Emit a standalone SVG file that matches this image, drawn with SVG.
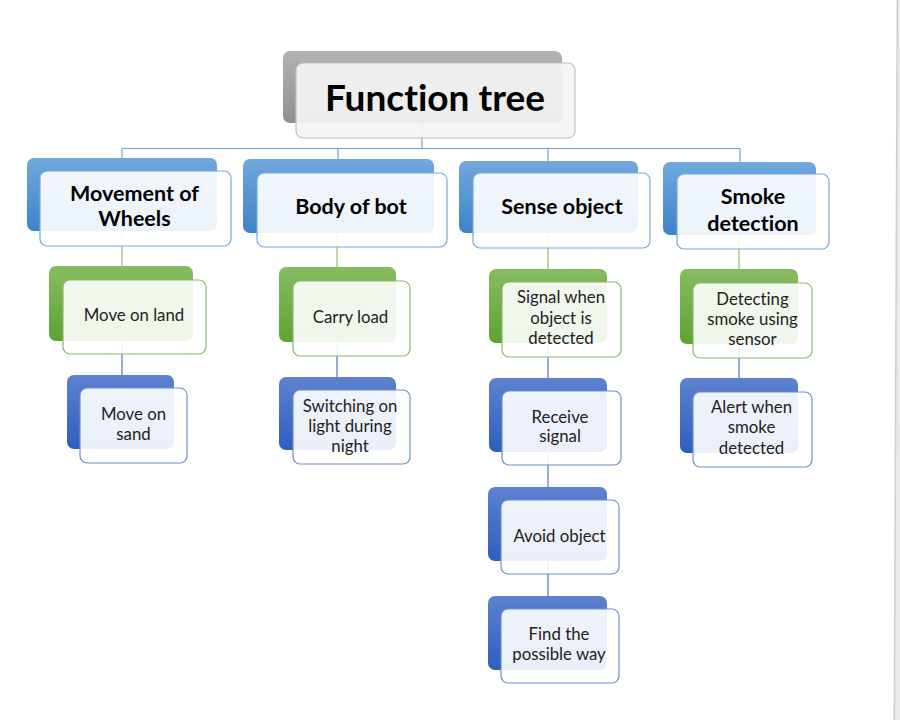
<svg xmlns="http://www.w3.org/2000/svg" width="900" height="720" viewBox="0 0 900 720">
<defs>
<linearGradient id="gGray" x1="0" y1="0" x2="0" y2="1"><stop offset="0" stop-color="#b3b3b3"/><stop offset="1" stop-color="#8f8f8f"/></linearGradient>
<linearGradient id="gL1" x1="0" y1="0" x2="0" y2="1"><stop offset="0" stop-color="#71a8de"/><stop offset="1" stop-color="#3f82c8"/></linearGradient>
<linearGradient id="gL2" x1="0" y1="0" x2="0" y2="1"><stop offset="0" stop-color="#87bc63"/><stop offset="1" stop-color="#5fa232"/></linearGradient>
<linearGradient id="gL3" x1="0" y1="0" x2="0" y2="1"><stop offset="0" stop-color="#5d82cf"/><stop offset="1" stop-color="#2e5ebe"/></linearGradient>
<style>
.bk{stroke:none}
.fr{fill:#ffffff;fill-opacity:0.9;stroke-width:1.2}
.f0{fill:#f4f4f4;fill-opacity:0.92;stroke:#c0c0c0;stroke-width:1.2}
.f1{stroke:#74a9df}
.f2{stroke:#86bc64}
.f3{stroke:#6d8ed3}
.t{font-family:Lato,"Liberation Sans",sans-serif;fill:#1a1a1a;text-anchor:middle;font-variant-ligatures:none;font-feature-settings:"liga" 0}
.tt{font-size:37px;font-weight:700;fill:#000}
.t1{font-size:21.5px;font-weight:700;fill:#000}
.t2{font-size:16.8px;fill:#222}
.c0{stroke:#6fa3d8;stroke-width:1.2;fill:none}
.c2{stroke:#8cc06a;stroke-width:1.2;fill:none}
.c3{stroke:#4f78c9;stroke-width:1.2;fill:none}
</style>
</defs>
<rect width="900" height="720" fill="#ffffff"/>
<polygon points="897.3,0 900,0 900,720 894.3,720" fill="#e9e9e9"/>
<line x1="897.3" y1="0" x2="894.3" y2="720" stroke="#cfcfcf" stroke-width="1.5"/>

<g id="connectors">
<path class="c0" d="M422,100 V148.5 M122,148.5 H740 M122,148.5 V170 M338,148.5 V170 M548,148.5 V170 M740,148.5 V170"/>
<path class="c2" d="M122,200 V300 M337,200 V300 M548,200 V300 M739,200 V300"/>
<path class="c3" d="M122,310 V410 M337,310 V410 M548,310 V410 M548,420 V520 M548,530 V630 M739,310 V410"/>
</g>

<g id="root">
<rect class="bk" x="283" y="51" width="279" height="72" rx="7" fill="url(#gGray)"/>
<rect class="f0" x="296" y="63" width="279" height="75" rx="7"/>
<text class="t tt" x="435" y="111">Function tree</text>
</g>

<g id="n-movement">
<rect class="bk" x="27" y="158" width="190" height="73" rx="7" fill="url(#gL1)"/>
<rect class="fr f1" x="40" y="171" width="191" height="75" rx="7"/>
<text class="t t1" x="134.5" y="201">Movement of</text>
<text class="t t1" x="134.5" y="226">Wheels</text>
</g>
<g id="n-body">
<rect class="bk" x="243" y="159" width="191" height="74" rx="7" fill="url(#gL1)"/>
<rect class="fr f1" x="257" y="173" width="190" height="74" rx="7"/>
<text class="t t1" x="351" y="214">Body of bot</text>
</g>
<g id="n-sense">
<rect class="bk" x="459" y="161" width="179" height="72" rx="7" fill="url(#gL1)"/>
<rect class="fr f1" x="473" y="173" width="177" height="75" rx="7"/>
<text class="t t1" x="562" y="214">Sense object</text>
</g>
<g id="n-smoke">
<rect class="bk" x="663" y="162" width="153" height="73" rx="7" fill="url(#gL1)"/>
<rect class="fr f1" x="677" y="174" width="152" height="75" rx="7"/>
<text class="t t1" x="753" y="204">Smoke</text>
<text class="t t1" x="753" y="231">detection</text>
</g>

<g id="n-land">
<rect class="bk" x="49" y="266" width="144" height="75" rx="7" fill="url(#gL2)"/>
<rect class="fr f2" x="63" y="280" width="143" height="74" rx="7"/>
<text class="t t2" x="134" y="321">Move on land</text>
</g>
<g id="n-carry">
<rect class="bk" x="279" y="267" width="117" height="75" rx="7" fill="url(#gL2)"/>
<rect class="fr f2" x="293" y="281" width="117" height="75" rx="7"/>
<text class="t t2" x="350.5" y="323">Carry load</text>
</g>
<g id="n-signal">
<rect class="bk" x="489" y="269" width="118" height="74" rx="7" fill="url(#gL2)"/>
<rect class="fr f2" x="502" y="282" width="119" height="75" rx="7"/>
<text class="t t2" x="561" y="303">Signal when</text>
<text class="t t2" x="561" y="324">object is</text>
<text class="t t2" x="561" y="344">detected</text>
</g>
<g id="n-detecting">
<rect class="bk" x="680" y="269" width="118" height="75" rx="7" fill="url(#gL2)"/>
<rect class="fr f2" x="693" y="283" width="119" height="75" rx="7"/>
<text class="t t2" x="752.5" y="305">Detecting</text>
<text class="t t2" x="752.5" y="325">smoke using</text>
<text class="t t2" x="752.5" y="345">sensor</text>
</g>

<g id="n-sand">
<rect class="bk" x="67" y="375" width="107" height="74" rx="7" fill="url(#gL3)"/>
<rect class="fr f3" x="80" y="388" width="107" height="75" rx="7"/>
<text class="t t2" x="133.5" y="420">Move on</text>
<text class="t t2" x="133.5" y="440">sand</text>
</g>
<g id="n-switch">
<rect class="bk" x="279" y="377" width="117" height="73" rx="7" fill="url(#gL3)"/>
<rect class="fr f3" x="293" y="390" width="117" height="74" rx="7"/>
<text class="t t2" x="350" y="412">Switching on</text>
<text class="t t2" x="350" y="432">light during</text>
<text class="t t2" x="350" y="452">night</text>
</g>
<g id="n-receive">
<rect class="bk" x="489" y="378" width="118" height="74" rx="7" fill="url(#gL3)"/>
<rect class="fr f3" x="502" y="391" width="119" height="74" rx="7"/>
<text class="t t2" x="560" y="423">Receive</text>
<text class="t t2" x="560" y="442">signal</text>
</g>
<g id="n-avoid">
<rect class="bk" x="488" y="487" width="119" height="74" rx="7" fill="url(#gL3)"/>
<rect class="fr f3" x="501" y="500" width="118" height="74" rx="7"/>
<text class="t t2" x="559.5" y="542">Avoid object</text>
</g>
<g id="n-find">
<rect class="bk" x="488" y="596" width="119" height="74" rx="7" fill="url(#gL3)"/>
<rect class="fr f3" x="501" y="609" width="118" height="74" rx="7"/>
<text class="t t2" x="559" y="640">Find the</text>
<text class="t t2" x="559" y="660">possible way</text>
</g>
<g id="n-alert">
<rect class="bk" x="680" y="378" width="118" height="75" rx="7" fill="url(#gL3)"/>
<rect class="fr f3" x="693" y="392" width="119" height="75" rx="7"/>
<text class="t t2" x="751.5" y="413">Alert when</text>
<text class="t t2" x="751.5" y="433">smoke</text>
<text class="t t2" x="751.5" y="454">detected</text>
</g>
</svg>
